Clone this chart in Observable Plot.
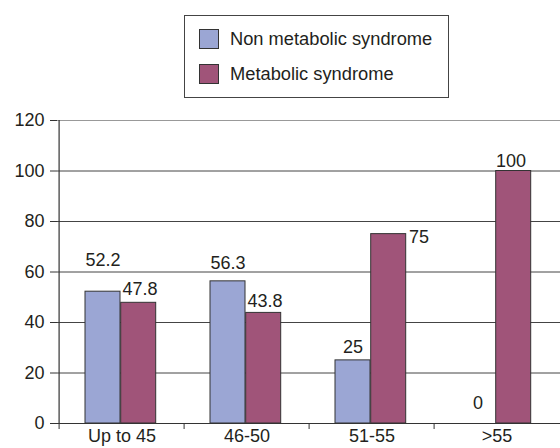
<!DOCTYPE html>
<html>
<head>
<meta charset="utf-8">
<script src="https://cdn.jsdelivr.net/npm/d3@7"></script>
<script src="https://cdn.jsdelivr.net/npm/@observablehq/plot@0.6"></script>
<style>
  body { margin: 0; background: #fff; }
  #wrap { position: relative; width: 560px; height: 448px; overflow: hidden; font-family: "Liberation Sans", Arial, sans-serif; }
  #legend { position: absolute; left: 184px; top: 15px; width: 265px; height: 83px; border: 1px solid #444; background: #fff; box-sizing: border-box; }
  .li { position: absolute; left: 14px; display: flex; align-items: center; font-size: 18.3px; color: #231f20; }
  .sw { width: 20px; height: 20px; border: 1px solid #333; box-sizing: border-box; margin-right: 11px; }
</style>
</head>
<body>
<div id="wrap">
  <div id="legend"></div>
</div>
<script>
const categories = ["Up to 45", "46-50", "51-55", ">55"];
const series = ["Non metabolic syndrome", "Metabolic syndrome"];
const nonMetabolic = [52.2, 56.3, 25, 0];
const metabolic = [47.8, 43.8, 75, 100];
const yTicks = [0, 20, 40, 60, 80, 100, 120];
const colors = ["#9ba6d4", "#a05479"];

const data = categories.flatMap((c, i) => [
  {category: c, series: series[0], value: nonMetabolic[i]},
  {category: c, series: series[1], value: metabolic[i]}
]);
const nonData = data.filter(d => d.series === series[0]);
const metData = data.filter(d => d.series === series[1]);

const txt = "#231f20";
const fs = 18;

const label = (d, opts) => Plot.text([d], {
  x: "category", y: "value", text: d => String(d.value),
  fill: txt, fontSize: fs, ...opts
});

const chart = Plot.plot({
  width: 560,
  height: 448,
  marginTop: 120,
  marginBottom: 25,
  marginLeft: 57,
  marginRight: 0,
  style: {fontFamily: "Liberation Sans, Arial, sans-serif", background: "transparent", overflow: "visible"},
  x: {domain: categories, padding: 0, label: null},
  y: {domain: [0, 120], label: null},
  marks: [
    Plot.ruleY([20, 40, 60, 80, 100], {stroke: "#444", strokeWidth: 1}),
    Plot.ruleY([120], {stroke: "#999", strokeWidth: 1}),
    Plot.barY(nonData, {x: "category", y: "value", fill: colors[0], stroke: "#333", strokeWidth: 1, insetLeft: 26, insetRight: 64}),
    Plot.barY(metData, {x: "category", y: "value", fill: colors[1], stroke: "#333", strokeWidth: 1, insetLeft: 61.7, insetRight: 28.3}),
    Plot.ruleY([0], {stroke: "#333", strokeWidth: 1.2}),
    Plot.axisY({ticks: yTicks, tickSize: 7, tickPadding: 6, fontSize: fs, stroke: "#333", color: txt, label: null}),
    Plot.ruleX([categories[0]], {dx: -62.9, y1: 120, y2: 0, stroke: "#333", strokeWidth: 1.2}),
    Plot.axisX({ticks: categories, tickSize: 6, text: null, dx: -62.9, stroke: "#333", label: null}),
    Plot.axisX({ticks: categories, tickSize: 0, tickPadding: 6, fontSize: fs, color: txt, label: null}),
    label(nonData[0], {dx: -19, dy: -31}),
    label(nonData[1], {dx: -19, dy: -18}),
    label(nonData[2], {dx: -19, dy: -13}),
    label(nonData[3], {dx: -19, dy: -20}),
    label(metData[0], {dx: 18, dy: -14}),
    label(metData[1], {dx: 18, dy: -12}),
    label(metData[2], {dx: 37, dy: 3, textAnchor: "start"}),
    label(metData[3], {dx: 14, dy: -10})
  ]
});
document.getElementById("wrap").prepend(chart);

const legend = document.getElementById("legend");
series.forEach((s, i) => {
  const row = document.createElement("div");
  row.className = "li";
  row.style.top = (i === 0 ? 12 : 47) + "px";
  const sw = document.createElement("div");
  sw.className = "sw";
  sw.style.background = colors[i];
  const t = document.createElement("span");
  t.textContent = s;
  row.append(sw, t);
  legend.append(row);
});
</script>
</body>
</html>
